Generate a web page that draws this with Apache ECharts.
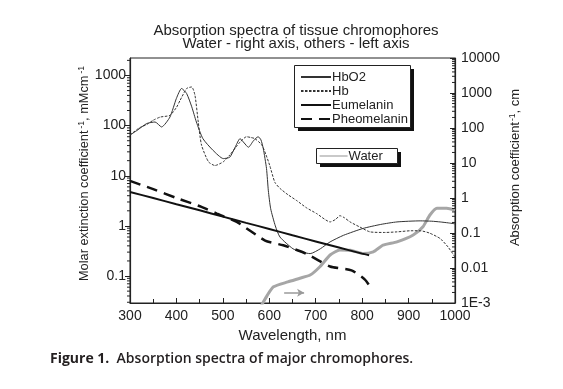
<!DOCTYPE html>
<html><head><meta charset="utf-8">
<script src="https://cdn.jsdelivr.net/npm/echarts@6/dist/echarts.min.js"></script>
<style>html,body{margin:0;padding:0;background:#fff}#c{width:563px;height:389px}</style>
</head><body><div id="c"></div>
<script>
// ---- data ----
const hbo2Nm  = [300,315,336,354,368,386,400,411,422,433,443,457,479,501,515,527,537,546,555,566,576,582,587,594,598,603,613,623,651,670,688,710,731,760,802,840,875,925,950,968,985,1000];
const hbo2Val = [65,80,110,118,94,148,350,550,436,237,118,55,32,22,23.5,38,55,45,37,50,60,52,35,14,5,2.2,1.0,0.6,0.35,0.3,0.28,0.35,0.48,0.65,0.89,1.07,1.2,1.26,1.24,1.2,1.15,1.1];

const hbNm  = [300,320,336,350,365,386,400,408,422,433,440,447,454,469,483,501,515,527,537,551,560,569,584,593,601,612,623,640,659,680,702,731,743,752,762,774,795,817,850,875,905,925,945,968,985,1000];
const hbVal = [65,90,105,128,148,160,230,320,550,590,400,118,41,19,16,19,26,36,47,60,58,55,41,26,16,7.4,5.6,4.2,3.2,2.3,1.76,1.2,1.35,1.6,1.45,1.2,0.95,0.76,0.74,0.76,0.8,0.8,0.72,0.56,0.38,0.24];

const euNm  = [300,350,400,450,500,550,600,650,700,750,800,815];
const euVal = [4.75,3.6,2.7,2.05,1.53,1.15,0.87,0.65,0.49,0.37,0.28,0.26];

const pheoNm  = [300,350,400,454,487,530,591,630,679,731,777,806,821];
const pheoVal = [7.9,5.4,3.6,2.4,1.76,1.2,0.51,0.41,0.28,0.155,0.13,0.085,0.054];

const waterNm  = [583,595,609,640,666,688,709,731,752,775,802,824,845,875,910,931,946,961,982,1000];
const waterVal = [0.00085,0.0016,0.0029,0.004,0.0051,0.0063,0.0109,0.0235,0.0327,0.032,0.026,0.029,0.045,0.056,0.088,0.151,0.327,0.51,0.51,0.45];

const xTickLabels = ['300','400','500','600','700','800','900','1000'];
const leftDecades  = [0.01,0.1,1,10,100,1000];
const rightDecades = [0.001,0.01,0.1,1,10,100,1000];
const minorMultipliers = [2,3,4,5,6,7,8,9];

// ---- helpers ----
const zip = (a, b) => a.map((v, i) => [v, b[i]]);
const FONT = "'Liberation Sans', Arial, sans-serif";
const INK = '#222';
function minorList(decades, lo, hi) {
  const out = [];
  decades.forEach(d => minorMultipliers.forEach(m => { const v = d * m; if (v > lo && v < hi) out.push(v); }));
  return out;
}
function powLabel(v, minus3) {
  const lg = Math.log10(v), e = Math.round(lg);
  if (Math.abs(lg - e) > 1e-6) return '';
  if (minus3 && e === -3) return '1E-3';
  return e >= 0 ? String(Math.pow(10, e)) : Math.pow(10, e).toFixed(-e);
}
const LMIN = 0.029, LMAX = 2230, RMIN = 0.001, RMAX = 10000;

function minorTickSeries(axisIdx, xVal, dir, len, values) {
  return {
    type: 'custom', xAxisIndex: 0, yAxisIndex: axisIdx, silent: true, clip: false, z: 5,
    data: values.map(v => [xVal, v]),
    renderItem: (params, api) => {
      const p = api.coord([api.value(0), api.value(1)]);
      return { type: 'line', shape: { x1: p[0], y1: p[1], x2: p[0] + dir * len, y2: p[1] },
               style: { stroke: INK, lineWidth: 1 } };
    }
  };
}

// legend frames with a solid drop shadow (decoration only)
function legendFrame(x, y, w, h) {
  return [
    { type: 'rect', z: 3, silent: true, shape: { x: x + 4, y: y + 4, width: w, height: h }, style: { fill: '#111' } },
    { type: 'rect', z: 3, silent: true, shape: { x: x + 0.5, y: y + 0.5, width: w, height: h }, style: { fill: '#fff', stroke: INK, lineWidth: 1 } }
  ];
}

const legendCommon = {
  orient: 'vertical', itemGap: 0, backgroundColor: 'transparent', borderWidth: 0, z: 6,
  itemStyle: { opacity: 0 },
  textStyle: { fontSize: 13, lineHeight: 14, color: INK, fontFamily: FONT, padding: [0, 0, 0, -4] }
};

const chart = echarts.init(document.getElementById('c'), null, { renderer: 'canvas' });
chart.setOption({
  animation: false,
  backgroundColor: '#fff',
  textStyle: { fontFamily: FONT, color: INK },
  title: [
    { text: 'Absorption spectra of tissue chromophores\nWater - right axis, others - left axis',
      left: 296, top: 24, textAlign: 'center', padding: 0,
      textStyle: { fontSize: 15, fontWeight: 'normal', lineHeight: 13.5, color: INK, fontFamily: FONT } },
    { text: '{b|Figure 1.}  Absorption spectra of major chromophores.',
      left: 50, top: 352, padding: 0,
      textStyle: { fontSize: 14, fontWeight: 600, color: '#231f20', fontFamily: "'Open Sans', sans-serif",
        rich: { b: { fontSize: 14, fontWeight: 'bold', color: '#231f20', fontFamily: "'Open Sans', sans-serif" } } } }
  ],
  graphic: [].concat(legendFrame(294, 65, 116, 62), legendFrame(316, 148, 81, 15)),
  grid: { left: 130, right: 108, top: 58, bottom: 86, show: true, borderColor: INK, borderWidth: 1, backgroundColor: 'transparent' },
  legend: [
    Object.assign({}, legendCommon, { left: 294, top: 65, padding: [5, 6, 3, 6], itemWidth: 30, itemHeight: 14,
      data: ['HbO2', 'Hb', 'Eumelanin', 'Pheomelanin'] }),
    Object.assign({}, legendCommon, { left: 316, top: 148, padding: [1, 5, 1, 3], itemWidth: 28, itemHeight: 13,
      lineStyle: { width: 1.2 }, data: ['Water'] })
  ],
  xAxis: {
    type: 'value', min: 300, max: 1000, interval: 100,
    axisLine: { lineStyle: { color: INK, width: 1.2 } },
    axisTick: { inside: true, length: 5, lineStyle: { color: INK } },
    minorTick: { show: true, splitNumber: 2, length: 4, lineStyle: { color: INK } },
    splitLine: { show: false },
    axisLabel: { fontSize: 14, margin: 6, color: INK, formatter: v => xTickLabels.includes(String(v)) ? String(v) : '' },
    name: 'Wavelength, nm', nameLocation: 'middle', nameGap: 23,
    nameTextStyle: { fontSize: 15, color: INK }
  },
  yAxis: [
    { type: 'log', logBase: 10, min: LMIN, max: LMAX, position: 'left',
      axisLine: { show: true, lineStyle: { color: INK, width: 1.2 } },
      axisTick: { show: true, inside: false, length: 5, lineStyle: { color: INK } },
      splitLine: { show: false },
      axisLabel: { fontSize: 14, margin: 4, color: INK, padding: [0, 0, 10, 0], showMinLabel: false, showMaxLabel: false,
                   formatter: v => powLabel(v, false) },
      name: 'Molar extinction coefficient{sup|-1}, mMcm{sup|-1}', nameLocation: 'middle', nameGap: 38, nameMoveOverlap: false,
      nameTextStyle: { fontSize: 12.8, color: INK, padding: [0, 0, 0, 14],
        rich: { sup: { fontSize: 8.5, verticalAlign: 'top', color: INK, padding: [0, 0, 6, 2] } } } },
    { type: 'log', logBase: 10, min: RMIN, max: RMAX, position: 'right',
      axisLine: { show: true, lineStyle: { color: INK, width: 1.2 } },
      axisTick: { show: true, inside: true, length: 5, lineStyle: { color: INK } },
      splitLine: { show: false },
      axisLabel: { fontSize: 14, margin: 6, color: INK, padding: [0, 0, 6, 0],
                   formatter: v => powLabel(v, true) },
      name: 'Absorption coefficient{sup|-1}, cm', nameLocation: 'middle', nameGap: 53, nameMoveOverlap: false,
      nameTextStyle: { fontSize: 13, color: INK, padding: [0, 0, 0, 26],
        rich: { sup: { fontSize: 8.5, verticalAlign: 'top', color: INK, padding: [0, 0, 6, 1] } } } }
  ],
  series: [
    { name: 'Water', type: 'line', yAxisIndex: 1, data: zip(waterNm, waterVal), symbol: 'none', smooth: 0.2,
      lineStyle: { color: '#a6a6a6', width: 3 }, itemStyle: { color: '#a6a6a6' }, z: 2,
      markLine: { silent: true, symbol: ['none', 'arrow'], symbolSize: [6, 7], label: { show: false },
        lineStyle: { color: '#9a9a9a', width: 1.5, type: 'solid' },
        data: [[{ coord: [632, 0.00197] }, { coord: [675, 0.00197] }]] } },
    { name: 'HbO2', type: 'line', data: zip(hbo2Nm, hbo2Val), symbol: 'none', smooth: 0.2,
      lineStyle: { color: '#333', width: 1 }, itemStyle: { color: '#333' }, z: 3 },
    { name: 'Hb', type: 'line', data: zip(hbNm, hbVal), symbol: 'none', smooth: 0.2,
      lineStyle: { color: '#333', width: 1, type: [2.5, 1.5] }, itemStyle: { color: '#333' }, z: 3 },
    { name: 'Eumelanin', type: 'line', data: zip(euNm, euVal), symbol: 'none', smooth: 0.2,
      lineStyle: { color: '#111', width: 2 }, itemStyle: { color: '#111' }, z: 4 },
    { name: 'Pheomelanin', type: 'line', data: zip(pheoNm, pheoVal), symbol: 'none', smooth: 0.2,
      lineStyle: { color: '#111', width: 2.5, type: [11, 7] }, itemStyle: { color: '#111' }, z: 4 },
    minorTickSeries(0, 300, -1, 3, minorList(leftDecades, LMIN, LMAX)),
    minorTickSeries(1, 1000, -1, 3, minorList(rightDecades, RMIN, RMAX))
  ]
});
</script></body></html>
